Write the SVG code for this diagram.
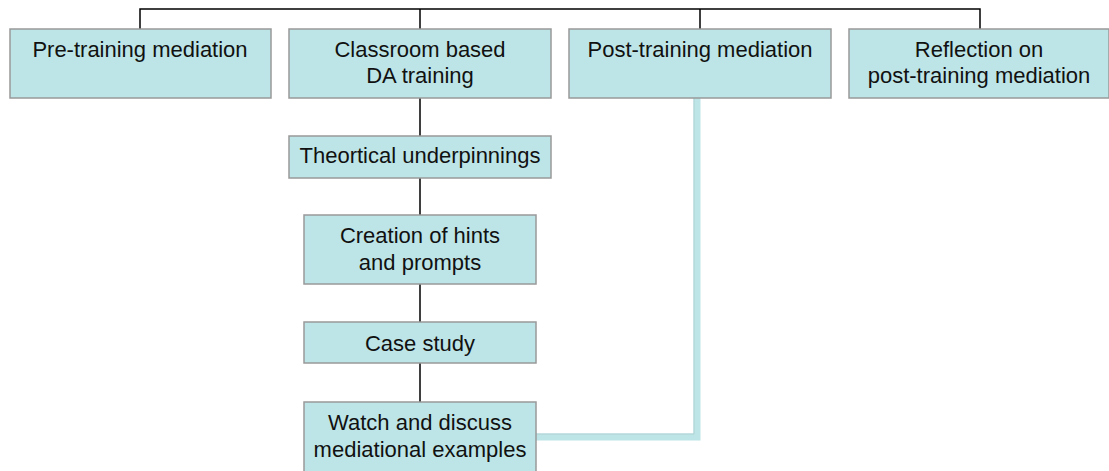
<svg xmlns="http://www.w3.org/2000/svg" width="1109" height="471" viewBox="0 0 1109 471">
<style>
.box{fill:#BDE5E7;stroke:#999;stroke-width:1.5}
.t{font-family:"Liberation Sans",Arial,sans-serif;font-size:22px;fill:#111;text-anchor:middle}
.c{stroke:#000;stroke-width:1.5;fill:none}
.hl{stroke:#BDE5E7;stroke-width:7;fill:none}
.hl2{stroke:#B0D2D4;stroke-width:1;fill:none}
</style>
<rect width="1109" height="471" fill="#fff"/>
<g id="connectors">
<path class="c" d="M140 29V9H980V29M420 9V29M700 9V29"/>
<path class="c" d="M420 98V136M420 178V215M420 284V322M420 363V402"/>
<path class="hl" d="M697 98V437H536"/>
<path class="hl2" d="M694 98V434H536"/>
</g>
<g id="n1"><rect class="box" x="10" y="29" width="261" height="69"/><text class="t" x="140" y="57">Pre-training mediation</text></g>
<g id="n2"><rect class="box" x="289" y="29" width="262" height="69"/><text class="t" x="420" y="57">Classroom based</text><text class="t" x="420" y="83">DA training</text></g>
<g id="n3"><rect class="box" x="569" y="29" width="262" height="69"/><text class="t" x="700" y="57">Post-training mediation</text></g>
<g id="n4"><rect class="box" x="849" y="29" width="260" height="69"/><text class="t" x="979" y="57">Reflection on</text><text class="t" x="979" y="83">post-training mediation</text></g>
<g id="n5"><rect class="box" x="289" y="136" width="262" height="42"/><text class="t" x="420" y="163">Theortical underpinnings</text></g>
<g id="n6"><rect class="box" x="304" y="215" width="232" height="69"/><text class="t" x="420" y="243">Creation of hints</text><text class="t" x="420" y="270">and prompts</text></g>
<g id="n7"><rect class="box" x="304" y="322" width="232" height="41"/><text class="t" x="420" y="351">Case study</text></g>
<g id="n8"><rect class="box" x="304" y="402" width="232" height="75"/><text class="t" x="420" y="430">Watch and discuss</text><text class="t" x="420" y="457">mediational examples</text></g>
</svg>
